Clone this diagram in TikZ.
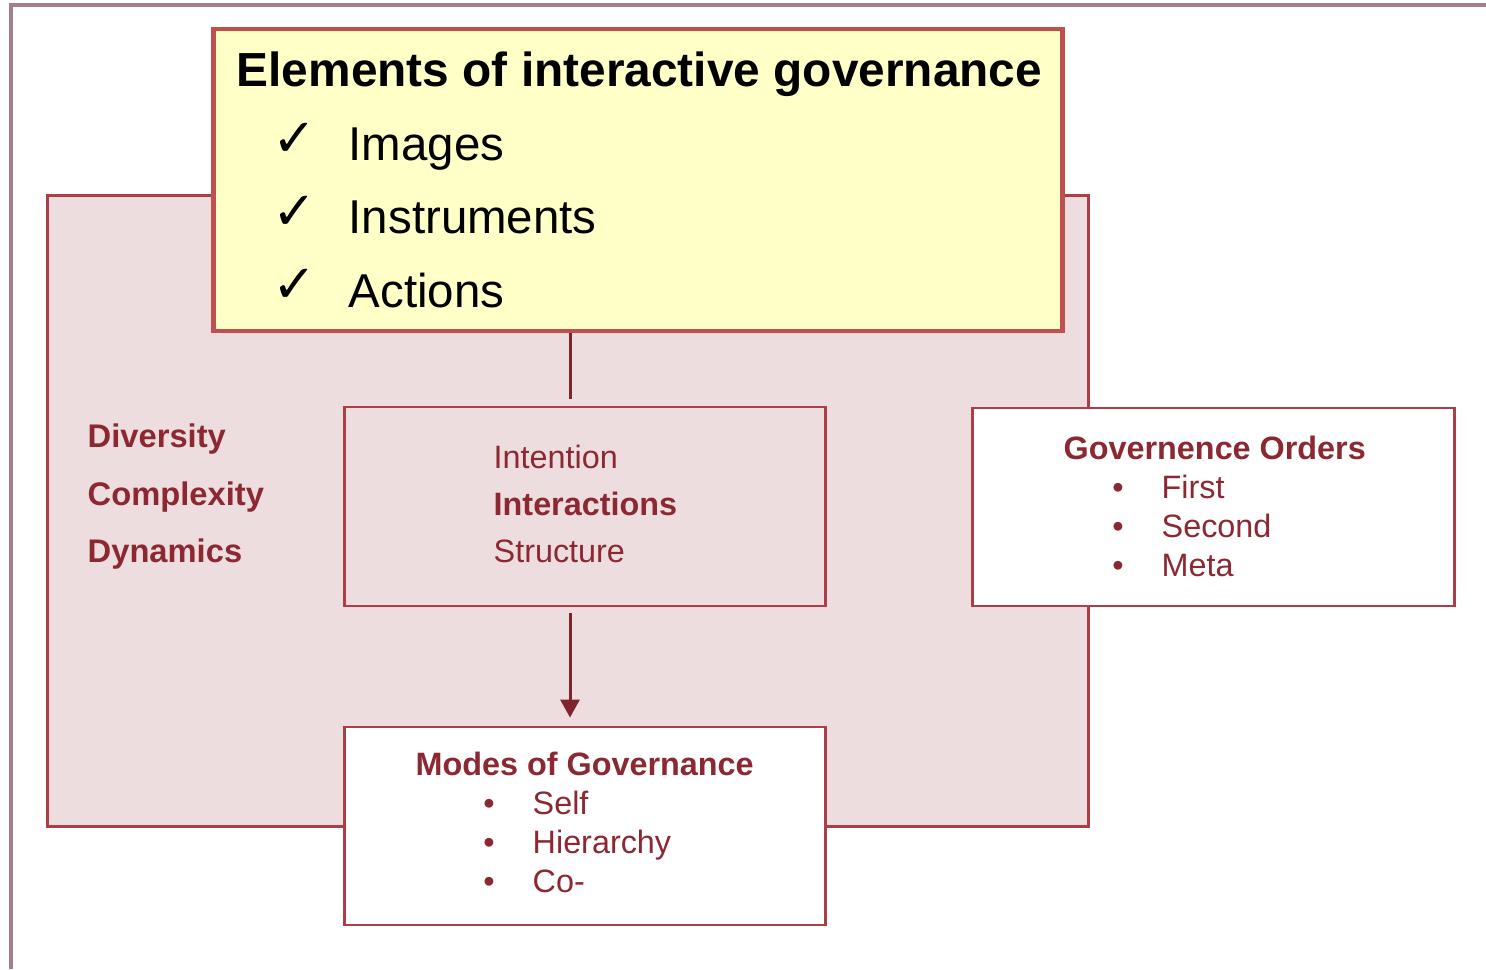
\documentclass[tikz,border=0pt]{standalone}
\usepackage{fontspec}
\setmainfont{Liberation Sans}
\newfontfamily\symfont{DejaVu Sans}
\usepackage{xcolor}
\usetikzlibrary{positioning, arrows.meta}

\definecolor{framegrey}{RGB}{165,125,135}
\definecolor{boxred}{RGB}{172,62,72}
\definecolor{txtred}{RGB}{140,40,50}
\definecolor{pinkfill}{RGB}{238,221,222}
\definecolor{notefill}{RGB}{255,255,200}
\definecolor{noteedge}{RGB}{192,80,77}

\begin{document}
\begin{tikzpicture}[x=0.01cm, y=-0.01cm,
    box/.style={rectangle, draw=boxred, line width=0.8pt, inner sep=0pt},
    txt/.style={anchor=base west, inner sep=0pt, text=txtred, font=\fontsize{9.2}{11}\selectfont},
    bul/.style={anchor=base, inner sep=0pt, text=txtred, font=\fontsize{9.2}{11}\selectfont},
    item/.style={anchor=base west, inner sep=0pt, font=\fontsize{13.5}{16}\selectfont},
    tick/.style={anchor=base west, inner sep=0pt, font=\fontsize{15}{18}\symfont},
    conn/.style={draw=txtred!90!black, line width=0.85pt}]
    \useasboundingbox (0,0) rectangle (1486,969);
    % frame
    \draw [framegrey, line width=0.9pt] (1486,5) -- (11,5) -- (11,969);

    \node (env) [box, fill=pinkfill, minimum width=10.40cm, minimum height=6.30cm] at (568,511) {};
    \node (note) [rectangle, draw=noteedge, fill=notefill, line width=1.3pt, minimum width=8.48cm, minimum height=3.02cm] at (638,180) {};
    \node (mid) [box, fill=pinkfill, minimum width=4.80cm, minimum height=1.99cm] at (585,506.5) {};
    \node (modes) [box, fill=white, minimum width=4.80cm, minimum height=1.98cm, below=1.18cm of mid] {};
    \node (orders) [box, fill=white, minimum width=4.81cm, minimum height=1.98cm] at (1213.5,507) {};
    \coordinate (axis) at (570,0);

    % elements box
    \node (title) [anchor=base west, inner sep=0pt, font=\fontsize{13.6}{16}\selectfont\bfseries] at (236,86) {Elements of interactive governance};
    \node (ck1) [tick] at (272,156) {✓};
    \node (ck2) [tick] at (272,229) {✓};
    \node (ck3) [tick] at (272,302) {✓};
    \node (images) [item] at (348,160) {Images};
    \node (instr) [item] at (348,233) {Instruments};
    \node (actions) [item] at (348,307) {Actions};

    % left labels
    \node (div) [txt, font=\fontsize{9.3}{11}\selectfont\bfseries] at (87,447) {Diversity};
    \node (compl) [txt, font=\fontsize{9.3}{11}\selectfont\bfseries] at (87,505) {Complexity};
    \node (dyn) [txt, font=\fontsize{9.3}{11}\selectfont\bfseries] at (87,562) {Dynamics};

    % middle box
    \node (intent) [txt] at (493,468) {Intention};
    \node (inter) [txt, font=\fontsize{9.2}{11}\selectfont\bfseries] at (493,515) {Interactions};
    \node (struct) [txt] at (493,562) {Structure};

    % orders box
    \node (ordtitle) [txt, font=\fontsize{9.2}{11}\selectfont\bfseries] at (1063,459) {Governence Orders};
    \node (ob1) [bul] at (1118,498) {•};
    \node (ob2) [bul] at (1118,537) {•};
    \node (ob3) [bul] at (1118,576) {•};
    \node (first) [txt] at (1161,498) {First};
    \node (second) [txt] at (1161,537) {Second};
    \node (meta) [txt] at (1161,576) {Meta};

    % modes box
    \node (modtitle) [txt, font=\fontsize{9.2}{11}\selectfont\bfseries] at (415,775) {Modes of Governance};
    \node (mb1) [bul] at (489,814) {•};
    \node (mb2) [bul] at (489,853) {•};
    \node (mb3) [bul] at (489,892) {•};
    \node (self) [txt] at (532,814) {Self};
    \node (hier) [txt] at (532,853) {Hierarchy};
    \node (cogov) [txt] at (532,892) {Co-};

    \draw [conn, shorten >=0.07cm] (note.south -| axis) -- (mid.north -| axis);
    \draw [conn, -{Triangle[width=0.19cm, length=0.18cm]}, shorten <=0.06cm, shorten >=0.08cm] (mid.south -| axis) -- (modes.north -| axis);
\end{tikzpicture}
\end{document}
